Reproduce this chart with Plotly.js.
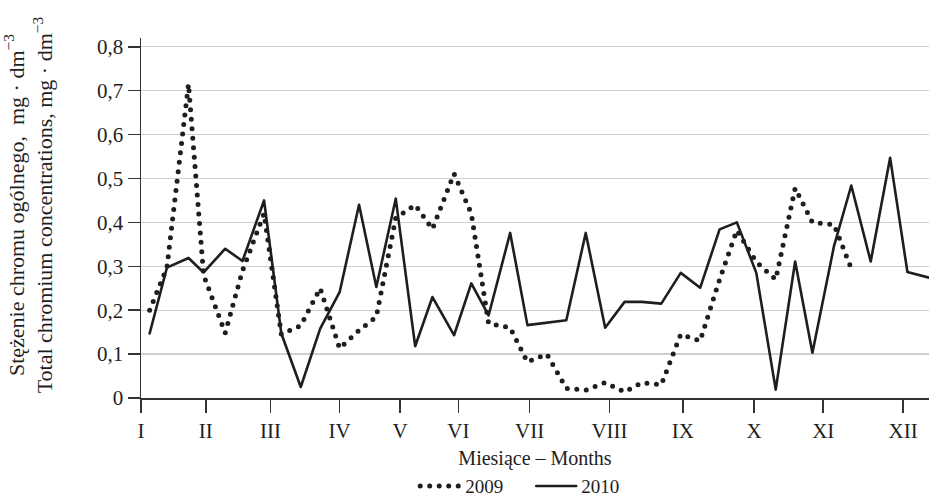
<!DOCTYPE html>
<html>
<head>
<meta charset="utf-8">
<script src="https://cdn.plot.ly/plotly-3.0.1.min.js"></script>
<style>
  html, body { margin: 0; padding: 0; background: #fff; }
  #chart { width: 929px; height: 500px; }
  .js-line { stroke-linecap: round; stroke-linejoin: round; }
</style>
</head>
<body>
<div id="chart"></div>
<script>
// Sampling positions (approx. day of year)
const days = [4, 12, 22, 29, 39, 47, 57, 65, 74, 83, 92, 101, 109, 118, 127, 135, 145, 153, 161, 171, 179,
              188, 197, 206, 215, 224, 232, 241, 250, 259, 268, 276, 285, 294, 303, 311, 321, 329, 338, 347, 355, 365];

// Total chromium concentration, mg/dm3
const values2009 = [0.200, 0.297, 0.715, 0.280, 0.148, 0.290, 0.420, 0.145, 0.165, 0.250, 0.113, 0.154, 0.185,
                    0.410, 0.440, 0.385, 0.511, 0.420, 0.170, 0.160, 0.082, 0.100, 0.022, 0.018, 0.035, 0.014,
                    0.035, 0.030, 0.145, 0.130, 0.270, 0.382, 0.310, 0.270, 0.478, 0.400, 0.395, 0.295];
const values2010 = [0.147, 0.297, 0.319, 0.286, 0.340, 0.312, 0.450, 0.147, 0.025, 0.158, 0.241, 0.440, 0.253,
                    0.454, 0.118, 0.230, 0.143, 0.261, 0.188, 0.376, 0.166, 0.171, 0.177, 0.376, 0.160, 0.219,
                    0.219, 0.215, 0.285, 0.251, 0.384, 0.400, 0.285, 0.019, 0.311, 0.103, 0.346, 0.484, 0.311,
                    0.547, 0.287, 0.274];

// Month tick positions and labels
const monthTickVals = [0, 30, 60, 92, 120, 147, 180, 217, 251, 284, 316, 353];
const monthLabels = ['I', 'II', 'III', 'IV', 'V', 'VI', 'VII', 'VIII', 'IX', 'X', 'XI', 'XII'];

const yTickVals = [0, 0.1, 0.2, 0.3, 0.4, 0.5, 0.6, 0.7, 0.8];
const yTickText = ['0', '0,1', '0,2', '0,3', '0,4', '0,5', '0,6', '0,7', '0,8'];

const FONT = 'Liberation Serif, Times New Roman, serif';
const INK = '#1e1e1e';

const traces = [
  {
    x: days.slice(0, values2009.length),
    y: values2009,
    type: 'scatter',
    mode: 'lines',
    name: '2009',
    line: { color: INK, width: 5, dash: '0px,9.5px' }
  },
  {
    x: days,
    y: values2010,
    type: 'scatter',
    mode: 'lines',
    name: '2010',
    line: { color: INK, width: 2.6 }
  }
];

const layout = {
  width: 929,
  height: 500,
  margin: { l: 141, r: 0, t: 38, b: 102, autoexpand: false },
  paper_bgcolor: '#fff',
  plot_bgcolor: '#fff',
  font: { family: FONT, size: 20, color: INK },
  showlegend: true,
  legend: {
    orientation: 'h',
    x: 0.348, xanchor: 'left',
    y: -0.245, yanchor: 'middle',
    font: { family: FONT, size: 19, color: INK },
    itemwidth: 40,
    entrywidth: 61,
    entrywidthmode: 'pixels',
    bgcolor: 'rgba(0,0,0,0)'
  },
  xaxis: {
    range: [0, 365],
    tickmode: 'array',
    tickvals: monthTickVals,
    ticktext: monthLabels,
    ticks: 'outside',
    ticklen: 13,
    tickwidth: 1.5,
    tickcolor: '#333',
    ticklabelstandoff: 0,
    showline: true,
    linecolor: '#333',
    linewidth: 1.5,
    showgrid: false,
    zeroline: false,
    automargin: false,
    tickfont: { family: FONT, size: 21, color: INK },
    title: { text: 'Miesiące – Months', font: { family: FONT, size: 20, color: INK }, standoff: 9 }
  },
  yaxis: {
    range: [0, 0.82],
    tickmode: 'array',
    tickvals: yTickVals,
    ticktext: yTickText,
    ticks: 'outside',
    ticklen: 12,
    tickwidth: 1.5,
    tickcolor: '#333',
    showline: true,
    linecolor: '#333',
    linewidth: 1.5,
    showgrid: true,
    gridcolor: '#cfcfcf',
    gridwidth: 1.3,
    zeroline: false,
    automargin: false,
    tickfont: { family: FONT, size: 21, color: INK }
  },
  annotations: [
    {
      text: 'Stężenie chromu ogólnego,  mg · dm<sup>−3</sup><br>Total chromium concentrations, mg · dm<sup>−3</sup>',
      textangle: -90,
      xref: 'paper', yref: 'paper',
      x: -0.143, y: 0.536,
      xanchor: 'center', yanchor: 'middle',
      showarrow: false,
      font: { family: FONT, size: 22, color: INK }
    }
  ]
};

Plotly.newPlot('chart', traces, layout, { displayModeBar: false, staticPlot: true });
</script>
</body>
</html>
